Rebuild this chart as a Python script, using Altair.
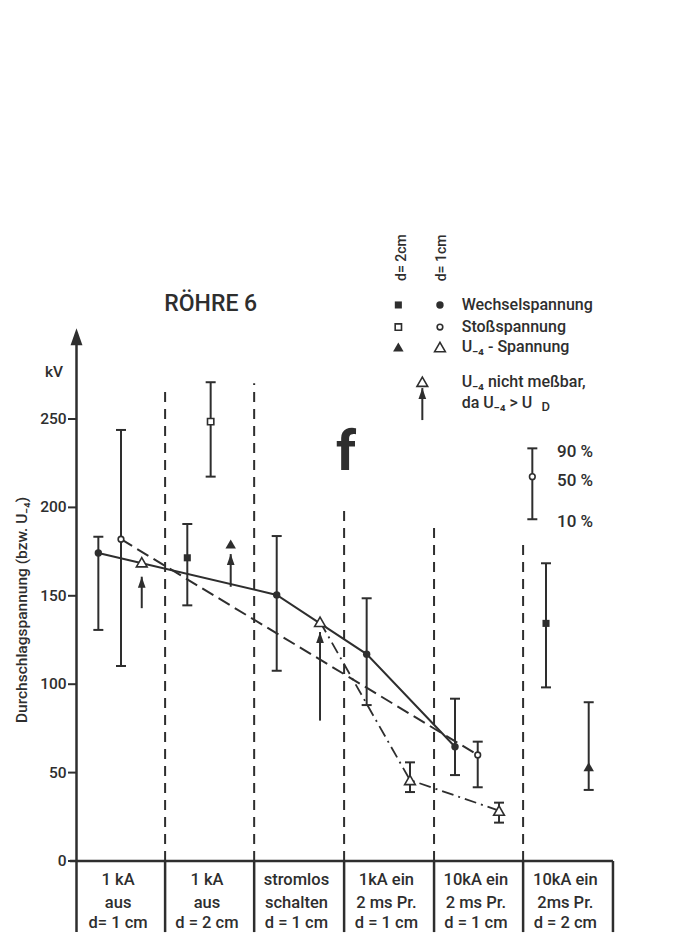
import altair as alt
import pandas as pd

INK = "#2e2e2e"
FONT = "Roboto"

# ---------------- data ----------------
cat_line1 = ["1 kA", "1 kA", "stromlos", "1kA ein", "10kA ein", "10kA ein"]
cat_line2 = ["aus", "aus", "schalten", "2 ms Pr.", "2 ms Pr.", "2ms Pr."]
cat_line3 = ["d= 1 cm", "d = 2 cm", "d = 1 cm", "d = 1 cm", "d = 1 cm", "d = 2 cm"]
group_edges = [0.0, 0.99, 1.985, 2.99, 3.995, 4.99, 5.994]
sep_top = [267.4, 270.2, 199.5, 191.0, 182.5]
y_ticks = [0, 50, 100, 150, 200, 250]

# x = position in category units, m = 50 %, lo = 10 %, hi = 90 %  (kV)
wech1_x = [0.244, 2.237, 3.242, 4.229]
wech1_m = [174.2, 150.5, 117.0, 64.6]
wech1_lo = [130.7, 107.6, 88.2, 48.6]
wech1_hi = [183.4, 183.8, 148.6, 91.8]

stoss1_x = [0.497, 4.483]
stoss1_m = [182.0, 60.0]
stoss1_lo = [110.3, 41.7]
stoss1_hi = [243.8, 67.5]

u4_1_x = [0.729, 2.721, 3.726, 4.721]
u4_1_m = [169.0, 135.3, 45.8, 28.5]
u4_1_lo = [None, None, 39.0, 21.7]
u4_1_hi = [None, None, 55.8, 33.0]

wech2_x = [1.238, 5.246]
wech2_m = [171.5, 134.4]
wech2_lo = [144.6, 98.2]
wech2_hi = [190.6, 168.4]

stoss2_x = [1.499]
stoss2_m = [248.5]
stoss2_lo = [217.4]
stoss2_hi = [270.8]

u4_2_x = [1.723, 5.723]
u4_2_m = [179.3, 53.3]
u4_2_lo = [None, 40.2]
u4_2_hi = [None, 89.8]

# "U-4 nicht messbar" arrows
arrow_x = [0.729, 1.723, 2.721]
arrow_tip = [160.8, 173.6, 129.5]
arrow_tail = [143.0, 155.1, 79.4]

# percentile key bar
key_x = [5.093]
key_m = [217.4]
key_lo = [193.3]
key_hi = [233.4]
key_labels = ["90 %", "50 %", "10 %"]

legend_labels = ["Wechselspannung", "Stoßspannung", "U₋₄ - Spannung"]

# ---------------- layout ----------------
W, H = 655, 925
X0, UNIT = 76.5, 89.5
Y0, KV = 861.0, 1.768
XDOM = [(8 - X0) / UNIT, (8 + W - X0) / UNIT]
YDOM = [(Y0 - 8 - H) / KV, (Y0 - 8) / KV]
BOX_BOTTOM = -40.2
AXIS_TOP = 301.3

xs = alt.Scale(domain=XDOM, nice=False, zero=False)
ys = alt.Scale(domain=YDOM, nice=False, zero=False)


def ex(f):
    return alt.X(f, type="quantitative", scale=xs, axis=None)


def ey(f):
    return alt.Y(f, type="quantitative", scale=ys, axis=None)


def df(**cols):
    return pd.DataFrame(cols)


def text(d, **kw):
    opts = dict(font=FONT, color=INK, fontSize=16, align="left", baseline="middle",
                fontWeight=500)
    opts.update(kw)
    return alt.Chart(d).mark_text(**opts).encode(x=ex("x"), y=ey("y"), text="t:N")


ARROW = "M0,-1L0.7,1L-0.7,1Z"

layers = []

# dashed category separators
layers.append(alt.Chart(df(x=group_edges[1:-1], y=[0] * 5, y2=sep_top)).mark_rule(
    color=INK, strokeWidth=2, strokeDash=[10, 7]).encode(x=ex("x"), y=ey("y"), y2="y2"))
# category box verticals
layers.append(alt.Chart(df(x=group_edges[1:], y=[BOX_BOTTOM] * 6, y2=[0] * 6)).mark_rule(
    color=INK, strokeWidth=2.5).encode(x=ex("x"), y=ey("y"), y2="y2"))
# baseline
layers.append(alt.Chart(df(x=[-0.073], x2=[group_edges[-1]], y=[0])).mark_rule(
    color=INK, strokeWidth=2.5).encode(x=ex("x"), x2="x2", y=ey("y")))
# y axis line + arrow head
layers.append(alt.Chart(df(x=[0.0], y=[BOX_BOTTOM], y2=[AXIS_TOP - 6])).mark_rule(
    color=INK, strokeWidth=2.5).encode(x=ex("x"), y=ey("y"), y2="y2"))
layers.append(alt.Chart(df(x=[0.0], y=[AXIS_TOP])).mark_point(
    shape=ARROW, filled=True, fill=INK, strokeWidth=0, size=289, opacity=1, yOffset=8.5
).encode(x=ex("x"), y=ey("y")))
# y ticks and labels
layers.append(alt.Chart(df(x=[-0.095] * 6, x2=[0.0] * 6, y=y_ticks)).mark_rule(
    color=INK, strokeWidth=2).encode(x=ex("x"), x2="x2", y=ey("y")))
layers.append(text(df(x=[-0.11] * 6, y=y_ticks, t=[str(v) for v in y_ticks]),
                   align="right", fontSize=15.5))

# series lines
layers.append(alt.Chart(df(x=wech1_x, y=wech1_m)).mark_line(
    color=INK, strokeWidth=2).encode(x=ex("x"), y=ey("y")))
layers.append(alt.Chart(df(x=stoss1_x, y=stoss1_m)).mark_line(
    color=INK, strokeWidth=2, strokeDash=[13, 6]).encode(x=ex("x"), y=ey("y")))
layers.append(alt.Chart(df(x=u4_1_x[1:], y=u4_1_m[1:])).mark_line(
    color=INK, strokeWidth=1.8, strokeDash=[12, 5, 2, 5]).encode(x=ex("x"), y=ey("y")))

# error bars
eb = pd.concat([
    df(x=wech1_x, lo=wech1_lo, hi=wech1_hi),
    df(x=stoss1_x, lo=stoss1_lo, hi=stoss1_hi),
    df(x=u4_1_x, lo=u4_1_lo, hi=u4_1_hi),
    df(x=wech2_x, lo=wech2_lo, hi=wech2_hi),
    df(x=stoss2_x, lo=stoss2_lo, hi=stoss2_hi),
    df(x=u4_2_x, lo=u4_2_lo, hi=u4_2_hi),
    df(x=key_x, lo=key_lo, hi=key_hi),
]).dropna()
layers.append(alt.Chart(eb).mark_rule(color=INK, strokeWidth=2).encode(
    x=ex("x"), y=ey("lo"), y2="hi"))
for f in ["lo", "hi"]:
    layers.append(alt.Chart(eb).mark_tick(
        color=INK, orient="horizontal", size=10, thickness=2, opacity=1
    ).encode(x=ex("x"), y=ey(f)))

# arrows (U-4 not measurable)
arrow_x_all = arrow_x + [3.864]
arrow_tip_all = arrow_tip + [267.5]
arrow_tail_all = arrow_tail + [249.4]
layers.append(alt.Chart(df(x=arrow_x_all, y=arrow_tail_all, y2=arrow_tip_all)).mark_rule(
    color=INK, strokeWidth=2).encode(x=ex("x"), y=ey("y"), y2="y2"))
layers.append(alt.Chart(df(x=arrow_x_all, y=arrow_tip_all)).mark_point(
    shape=ARROW, filled=True, fill=INK, strokeWidth=0, size=121, opacity=1, yOffset=5.5
).encode(x=ex("x"), y=ey("y")))

# legend marker positions (layout)
LX2, LX1, LXT = 3.596, 4.061, 4.304
LROWS = [314.5, 302.0, 290.7]

STYLES = {
    "fcirc": dict(shape="circle", fill=INK, size=55),
    "ocirc": dict(shape="circle", fill="white", stroke=INK, strokeWidth=1.6, size=32),
    "otri": dict(shape="triangle-up", fill="white", stroke=INK, strokeWidth=1.6, size=115),
    "fsq": dict(shape="square", fill=INK, size=50),
    "osq": dict(shape="square", fill="white", stroke=INK, strokeWidth=1.6, size=40),
    "ftri": dict(shape="triangle-up", fill=INK, size=110),
}


def markers(xv, yv, kind):
    st = dict(filled=True, opacity=1, strokeWidth=0)
    st.update(STYLES[kind])
    return alt.Chart(df(x=xv, y=yv)).mark_point(**st).encode(x=ex("x"), y=ey("y"))


layers.append(markers(wech1_x + [LX1], wech1_m + [LROWS[0]], "fcirc"))
layers.append(markers(stoss1_x + key_x + [LX1], stoss1_m + key_m + [LROWS[1]], "ocirc"))
layers.append(markers(u4_1_x + [LX1, 3.864], u4_1_m + [LROWS[2], 271.1], "otri"))
layers.append(markers(wech2_x + [LX2], wech2_m + [LROWS[0]], "fsq"))
layers.append(markers(stoss2_x + [LX2], stoss2_m + [LROWS[1]], "osq"))
layers.append(markers(u4_2_x + [LX2], u4_2_m + [LROWS[2]], "ftri"))

# legend texts
layers.append(text(df(x=[LXT] * 3, y=LROWS, t=legend_labels)))
layers.append(text(df(x=[LXT, LXT], y=[271.1, 258.9],
                      t=["U₋₄  nicht  meßbar,", "da  U₋₄ > U"])))
layers.append(text(df(x=[5.195], y=[256.8], t=["D"]), fontSize=13))
layers.append(text(df(x=[3.642, 4.089], y=[341.3, 341.1], t=["d= 2cm", "d= 1cm"]),
                   angle=270, align="center", fontSize=14))
# percentile key labels
layers.append(text(df(x=[5.369] * 3, y=[231.5, 214.7, 192.0], t=key_labels), fontSize=17))

# title, f, kV, y title
layers.append(text(df(x=[1.5], y=[315.0], t=["RÖHRE 6"]), align="center", fontSize=23))
layers.append(text(df(x=[3.01], y=[221.2], t=["f"]), align="center", baseline="alphabetic",
                   fontSize=56, fontWeight="bold"))
layers.append(text(df(x=[-0.251], y=[276.8], t=["kV"]), align="center", fontSize=15.5))
layers.append(text(df(x=[-0.609], y=[142.0], t=["Durchschlagspannung (bzw. U₋₄)"]),
                   align="center", angle=270, fontSize=15.5))

# category labels
centers = [(group_edges[i] + group_edges[i + 1]) / 2 - 0.03 for i in range(6)]
for line, yv in zip([cat_line1, cat_line2, cat_line3], [-10.7, -23.6, -34.8]):
    layers.append(text(df(x=centers, y=[yv] * 6, t=line), align="center", fontSize=16.5))

chart = alt.layer(*layers).properties(
    width=W, height=H, padding=0, background="white",
    autosize=alt.AutoSizeParams(type="none"),
).configure_view(stroke=None)

chart.save("out.html", embed_options={"renderer": "svg", "actions": False})
